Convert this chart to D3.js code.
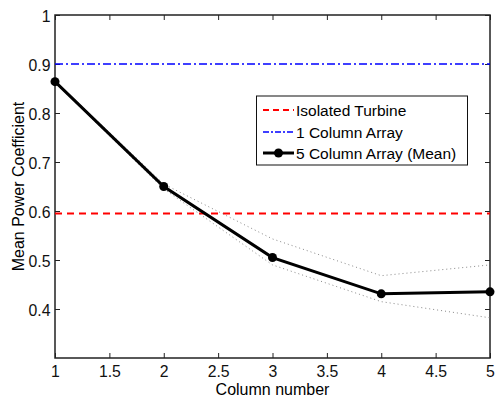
<!DOCTYPE html>
<html>
<head>
<meta charset="utf-8">
<script src="https://cdn.jsdelivr.net/npm/d3@7"></script>
<style>
  body { margin: 0; background: #fff; }
  svg { display: block; font-family: "Liberation Sans", Arial, sans-serif; }
</style>
</head>
<body>
<svg></svg>
<script>
// data
let columns = [1, 2, 3, 4, 5];
let meanCp = [0.864, 0.650, 0.505, 0.431, 0.435];
let upperCp = [0.866, 0.655, 0.543, 0.468, 0.490];
let lowerCp = [0.862, 0.645, 0.490, 0.415, 0.382];
let isolatedCp = 0.595;
let oneColumnCp = 0.9;
let xTicks = [1, 1.5, 2, 2.5, 3, 3.5, 4, 4.5, 5];
let yTicks = [0.4, 0.5, 0.6, 0.7, 0.8, 0.9, 1];
let legendLabels = ["Isolated Turbine", "1 Column Array", "5 Column Array (Mean)"];

let width = 496;
let height = 396;
let padLeft = 55, padRight = 490, padTop = 15, padBottom = 358;

let svg = d3.select("svg").attr("width", width).attr("height", height);

let xScale = d3.scaleLinear().domain([1, 5]).range([padLeft, padRight]);
let yScale = d3.scaleLinear().domain([0.3, 1]).range([padBottom, padTop]);

// axes with inward ticks
let xAxis = d3.axisBottom(xScale).tickValues(xTicks).tickSizeInner(-5).tickSizeOuter(0)
  .tickPadding(8).tickFormat(d3.format("~g"));
let gx = svg.append("g").attr("transform", "translate(0," + padBottom + ")").call(xAxis);
let xTop = d3.axisTop(xScale).tickValues(xTicks).tickSizeInner(-5).tickSizeOuter(0).tickFormat("");
let gxt = svg.append("g").attr("transform", "translate(0," + padTop + ")").call(xTop);

let yAxis = d3.axisLeft(yScale).tickValues(yTicks).tickSizeInner(-5).tickSizeOuter(0)
  .tickPadding(4.5).tickFormat(d3.format("~g"));
let gy = svg.append("g").attr("transform", "translate(" + padLeft + ",0)").call(yAxis);
let yRight = d3.axisRight(yScale).tickValues(yTicks).tickSizeInner(-5).tickSizeOuter(0).tickFormat("");
let gyr = svg.append("g").attr("transform", "translate(" + padRight + ",0)").call(yRight);

[gx, gxt, gy, gyr].forEach((g) => {
  g.select(".domain").remove();
  g.selectAll(".tick line").attr("stroke", "#222").attr("stroke-width", 1);
  g.selectAll("text").attr("font-size", 15.8).attr("font-family", "Liberation Sans, Arial, sans-serif").attr("fill", "#111");
});
gy.selectAll("text").attr("dy", "0.38em");

// box
svg.append("rect")
  .attr("x", padLeft).attr("y", padTop)
  .attr("width", padRight - padLeft).attr("height", padBottom - padTop)
  .attr("fill", "none").attr("stroke", "#222").attr("stroke-width", 1.5);

// reference lines
svg.append("line")
  .attr("x1", xScale(1)).attr("x2", xScale(5))
  .attr("y1", yScale(isolatedCp)).attr("y2", yScale(isolatedCp))
  .attr("stroke", "#ff0000").attr("stroke-width", 2).attr("stroke-dasharray", "7,5");
svg.append("line")
  .attr("x1", xScale(1)).attr("x2", xScale(5))
  .attr("y1", yScale(oneColumnCp)).attr("y2", yScale(oneColumnCp))
  .attr("stroke", "#0000ff").attr("stroke-width", 1.5).attr("stroke-dasharray", "8,3,2,3");

let line = d3.line().x((d, i) => xScale(columns[i])).y((d) => yScale(d));

// spread lines
[upperCp, lowerCp].forEach((arr) => {
  svg.append("path").attr("d", line(arr))
    .attr("fill", "none").attr("stroke", "#888").attr("stroke-width", 1)
    .attr("stroke-dasharray", "1,3");
});

// mean line
svg.append("path").attr("d", line(meanCp))
  .attr("fill", "none").attr("stroke", "#000").attr("stroke-width", 3);
svg.selectAll("circle.mean").data(meanCp).enter().append("circle")
  .attr("class", "mean")
  .attr("cx", (d, i) => xScale(columns[i]))
  .attr("cy", (d) => yScale(d))
  .attr("r", 4.5).attr("fill", "#000");

// axis labels
svg.append("text").attr("x", (padLeft + padRight) / 2).attr("y", 394.5)
  .attr("text-anchor", "middle").attr("font-size", 16).text("Column number");
svg.append("text").attr("transform", "translate(24," + (padTop + padBottom) / 2 + ") rotate(-90)")
  .attr("text-anchor", "middle").attr("font-size", 16).text("Mean Power Coefficient");

// legend
let lg = svg.append("g");
lg.append("rect").attr("x", 256.5).attr("y", 96).attr("width", 211).attr("height", 69)
  .attr("fill", "#fff").attr("stroke", "#111").attr("stroke-width", 1);
let rowY = [110, 132, 153];
let styles = [
  { stroke: "#ff0000", w: 2, dash: "6,4", marker: false },
  { stroke: "#0000ff", w: 1.5, dash: "6,2,2,2", marker: false },
  { stroke: "#000", w: 3, dash: null, marker: true }
];
legendLabels.forEach((label, i) => {
  let s = styles[i];
  lg.append("line").attr("x1", 263).attr("x2", 294).attr("y1", rowY[i]).attr("y2", rowY[i])
    .attr("stroke", s.stroke).attr("stroke-width", s.w).attr("stroke-dasharray", s.dash);
  if (s.marker) {
    lg.append("circle").attr("cx", 278.5).attr("cy", rowY[i]).attr("r", 4.5).attr("fill", "#000");
  }
  lg.append("text").attr("x", 296).attr("y", rowY[i] + 5.5).attr("font-size", 15.5).text(label);
});
</script>
</body>
</html>
